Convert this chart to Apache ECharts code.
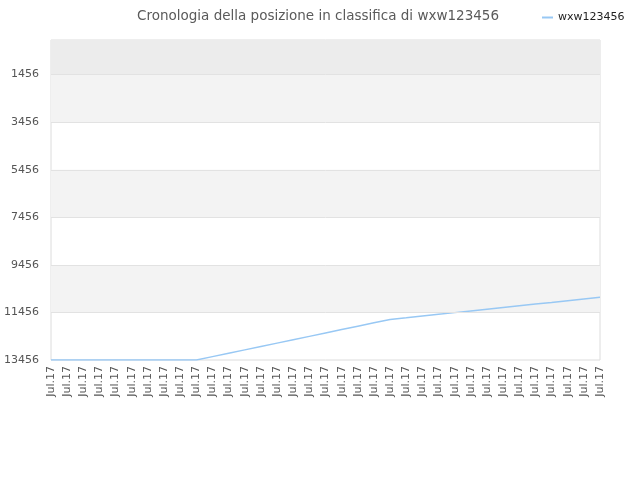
<!DOCTYPE html>
<html>
<head>
<meta charset="utf-8">
<script src="https://cdn.jsdelivr.net/npm/echarts@6/dist/echarts.min.js"></script>
<style>html,body{margin:0;padding:0;background:#fff}#c{width:640px;height:480px}</style>
</head>
<body>
<div id="c"></div>
<script>
var categories = ["Jul.17","Jul.17","Jul.17","Jul.17","Jul.17","Jul.17","Jul.17","Jul.17","Jul.17","Jul.17",
  "Jul.17","Jul.17","Jul.17","Jul.17","Jul.17","Jul.17","Jul.17","Jul.17","Jul.17","Jul.17",
  "Jul.17","Jul.17","Jul.17","Jul.17","Jul.17","Jul.17","Jul.17","Jul.17","Jul.17","Jul.17",
  "Jul.17","Jul.17","Jul.17","Jul.17","Jul.17"];
var rankValues = [13456,13456,13456,13456,13456,13456,13456,13456,13456,13456,
  13314,13172,13030,12888,12746,12604,12462,12320,12178,12036,11894,11750,
  11680,11607,11535,11464,11392,11321,11249,11178,11106,11035,10963,10892,10820];
var yTicks = [1456,3456,5456,7456,9456,11456,13456];
var yMin = 0, yMax = 13456;
var bands = [[0,1456,'#ececec'],[1456,3456,'#f3f3f3'],[5456,7456,'#f3f3f3'],[9456,11456,'#f3f3f3']];

var chart = echarts.init(document.getElementById('c'));
chart.setOption({
  animation: false,
  title: {
    text: 'Cronologia della posizione in classifica di wxw123456',
    left: 313, top: 4, textAlign: 'center',
    textStyle: {fontFamily: 'DejaVu Sans', fontSize: 13.5, fontWeight: 'normal', color: '#5a5a5a'}
  },
  legend: {
    left: 537, top: 7,
    icon: 'rect', itemWidth: 11, itemHeight: 2, itemGap: 5,
    textStyle: {fontFamily: 'DejaVu Sans', fontSize: 11, color: '#222'},
    data: ['wxw123456']
  },
  grid: {left: 51, right: 40, top: 40, bottom: 120, outerBoundsMode: 'none', containLabel: false,
    show: true, borderColor: '#dcdcdc', borderWidth: 1, backgroundColor: 'transparent'},
  xAxis: {
    type: 'category', data: categories, boundaryGap: false,
    axisLine: {show: false}, axisTick: {show: false}, splitLine: {show: false},
    axisLabel: {interval: 0, rotate: 90, margin: 6, fontFamily: 'DejaVu Sans', fontSize: 11, color: '#555'}
  },
  yAxis: {
    type: 'value', inverse: true, min: yMin, max: yMax,
    axisLine: {show: false}, axisTick: {show: false}, splitLine: {show: false},
    axisLabel: {customValues: yTicks, margin: 12, fontFamily: 'DejaVu Sans', fontSize: 11, color: '#555',
      formatter: function(v){ return String(v); }}
  },
  series: [{
    name: 'wxw123456', type: 'line', data: rankValues,
    showSymbol: false, symbol: 'none',
    lineStyle: {color: '#98c8f4', width: 1.5},
    itemStyle: {color: '#98c8f4'},
    markArea: {
      silent: true,
      data: bands.map(function(b){ return [{yAxis: b[0], itemStyle: {color: b[2]}}, {yAxis: b[1]}]; })
    },
    markLine: {
      silent: true, symbol: 'none', label: {show: false},
      lineStyle: {color: '#e2e2e2', type: 'solid', width: 1},
      data: yTicks.slice(0, -1).map(function(v){ return {yAxis: v}; })
    },
    z: 3
  }]
});
</script>
</body>
</html>
